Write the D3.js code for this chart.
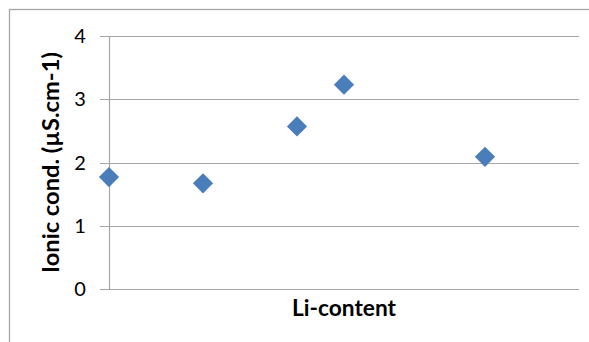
<!DOCTYPE html>
<html><head><meta charset="utf-8">
<script src="https://cdn.jsdelivr.net/npm/d3@7"></script>
<style>html,body{margin:0;padding:0;background:#fff;}svg{display:block;}</style>
</head><body>
<svg id="chart" width="589" height="342"></svg>
<script>
const liContent = [0, 0.2, 0.4, 0.5, 0.8];
const ionicCond = [1.77, 1.67, 2.57, 3.23, 2.09];
const yTicks = [0, 1, 2, 3, 4];
const xTitle = "Li-content";
const yTitle = "Ionic cond. (µS.cm-1)";

const svg = d3.select("#chart");
const font = "Lato, 'Open Sans', sans-serif";
const grid = "#a6a6a6";

svg.append("rect").attr("x", 9.5).attr("y", 9.5).attr("width", 640).attr("height", 400)
  .attr("fill", "#fff").attr("stroke", "#a6a6a6").attr("stroke-width", 1.3);

const x = d3.scaleLinear().domain([0, 1]).range([109, 579]);
const y = d3.scaleLinear().domain([0, 4]).range([289, 36]);

// gridlines
svg.append("g").selectAll("line").data(yTicks).join("line")
  .attr("x1", 100).attr("x2", 579)
  .attr("y1", d => Math.round(y(d)) + 0.5).attr("y2", d => Math.round(y(d)) + 0.5)
  .attr("stroke", grid).attr("stroke-width", 1.2);

// vertical axis line
svg.append("line").attr("x1", 109.5).attr("x2", 109.5).attr("y1", y(4)).attr("y2", y(0) + 1)
  .attr("stroke", grid).attr("stroke-width", 1.2);

// y axis labels
svg.append("g").selectAll("text").data(yTicks).join("text")
  .attr("x", 80).attr("y", d => y(d)).attr("dy", "0.36em")
  .attr("text-anchor", "middle").attr("font-family", font).attr("font-size", 20)
  .attr("fill", "#000").text(d => d);

// titles
const xt = svg.append("text").attr("x", 344).attr("y", 315.5).attr("text-anchor", "middle")
  .attr("font-family", font).attr("font-weight", "bold").attr("font-size", 20).text(xTitle);
const yt = svg.append("text").attr("transform", "translate(59,162.5) rotate(-90)")
  .attr("text-anchor", "middle").attr("font-family", font).attr("font-weight", "bold")
  .attr("font-size", 20).text(yTitle);
function fit(t, target) {
  const w = t.node().getComputedTextLength();
  t.attr("font-size", 20 * target / w);
}
fit(xt, 104);
fit(yt, 221);

// markers
svg.append("g").selectAll("path").data(liContent).join("path")
  .attr("d", d3.symbol(d3.symbolDiamond2, 260))
  .attr("transform", (d, i) => `translate(${x(d)},${y(ionicCond[i])})`)
  .attr("fill", "#4a7ebb");
</script>
</body></html>
